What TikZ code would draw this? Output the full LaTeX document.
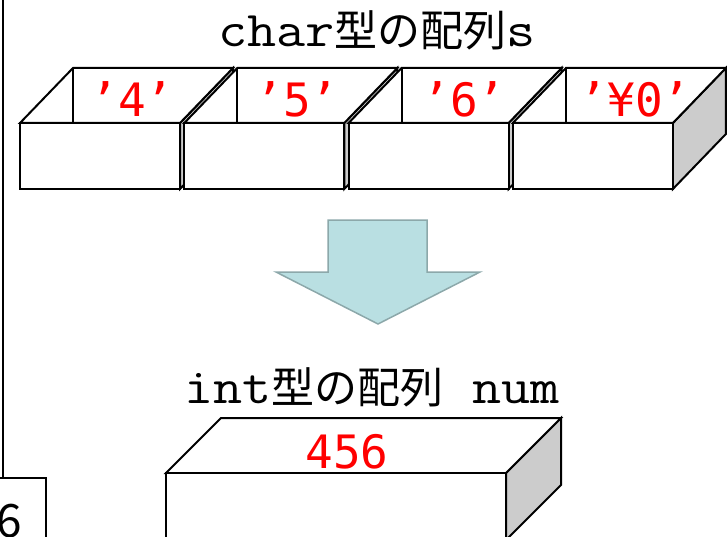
\documentclass[tikz,border=0pt]{standalone}
\usepackage{fontspec}
\usepackage{graphicx}
\newfontfamily\jp{Noto Sans CJK JP}
\newfontfamily\dmono{DejaVu Sans Mono}
\definecolor{sidegray}{HTML}{CCCCCC}
\definecolor{arrowfill}{HTML}{B9DFE2}
\definecolor{arrowline}{HTML}{8CA8AA}
\definecolor{valred}{HTML}{FF0000}
\tikzset{
  edge/.style={line width=2pt, line join=miter},
  digit/.style={anchor=base, inner sep=0pt, text=valred, font=\dmono\fontsize{46}{46}\selectfont},
  title/.style={anchor=base, inner sep=0pt, font=\fontsize{43}{43}\selectfont},
}
\newcommand\mytt[1]{\scalebox{1.13}[1]{\ttfamily\fontsize{50}{50}\selectfont #1}}
\newcommand\myjp[1]{{\jp\fontsize{43}{43}\selectfont #1}}
\begin{document}
\begin{tikzpicture}[x=1pt,y=-1pt]
\useasboundingbox (0,0) rectangle (727,537);
\clip (0,0) rectangle (727,537);
% char boxes
\foreach \X in {20,184.3,348.6,512.9}{
  \filldraw[edge, fill=sidegray] (\X+160,123) -- (\X+213,68) -- (\X+213,134) -- (\X+160,189) -- cycle;
  \filldraw[edge, fill=white] (\X,123) -- (\X+53,68) -- (\X+213,68) -- (\X+160,123) -- cycle;
  \draw[edge] (\X+53,68) -- (\X+53,123);
  \filldraw[edge, fill=white] (\X,123) rectangle (\X+160,189);
}
\node[digit] (c1) at (132,117) {’4’};
\node[digit] (c2) at (297,117) {’5’};
\node[digit] (c3) at (464,117) {’6’};
\node[digit] (c4) at (635,117) {’¥0’};
\node[title] (t1) at (377,47) {\mytt{char}\myjp{型の配列}\mytt{s}};
% arrow
\filldraw[fill=arrowfill, draw=arrowline, line width=1.5pt]
  (328,220) -- (427,220) -- (427,272) -- (480,272) -- (378,324) -- (276,272) -- (328,272) -- cycle;
% int box
\node[title] (t2) at (372,403) {\mytt{int}\myjp{型の配列}\mytt{ num}};
\filldraw[edge, fill=sidegray] (506,473) -- (561,418) -- (561,485) -- (506,540) -- cycle;
\filldraw[edge, fill=white] (166,473) -- (221,418) -- (561,418) -- (506,473) -- cycle;
\filldraw[edge, fill=white] (166,473) rectangle (506,560);
\node[digit] (n) at (347,468) {456};
% left frame
\draw[edge] (3,-5) -- (3,478);
\draw[edge] (-5,478) -- (46,478) -- (46,545);
\node[digit, text=black, font=\jp\fontsize{46}{46}\selectfont] (six) at (9,537) {6};
\end{tikzpicture}
\end{document}
